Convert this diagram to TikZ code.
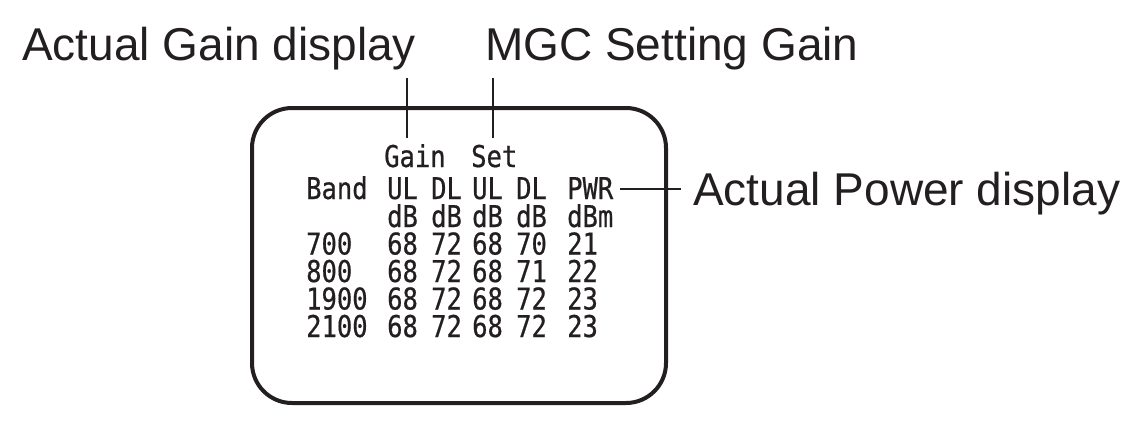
\documentclass[tikz,border=0pt]{standalone}
\usepackage{fontspec}
\setmainfont{Liberation Sans}
\newfontfamily\lcd[FakeStretch=0.85,FakeBold=0.6]{DejaVu Sans Mono}
\definecolor{ink}{HTML}{231F20}
\begin{document}
\begin{tikzpicture}[x=1pt,y=-1pt,
  lbl/.style={anchor=base west,inner sep=0pt,font=\fontsize{46}{50}\selectfont,text=ink},
  cell/.style={anchor=base west,inner sep=0pt,text height=22pt,text depth=0pt,font=\lcd\fontsize{30}{30}\selectfont,text=ink},
  leader/.style={draw=ink,line width=1.7pt},
  frame/.style={draw=ink,line width=4pt,rounded corners=40pt}]
\useasboundingbox (0,0) rectangle (1141,432);
\draw[frame] (252,108) rectangle (666,403);
% labels
\node[lbl] (lgain) at (22,60) {Actual Gain display};
\node[lbl] (lmgc) at (485,60) {MGC Setting Gain};
\node[lbl] (lpwr) at (693,205) {Actual Power display};
% header
\node[cell] (hgain) at (384,167) {Gain};
\node[cell] (hset) at (471,167) {Set};
\node[cell] (band) at (306,199) {Band};
\node[cell] (ul1) at (387,199) {UL};
\node[cell] (dl1) at (431,199) {DL};
\node[cell] (ul2) at (472,199) {UL};
\node[cell] (dl2) at (516,199) {DL};
\node[cell] (pwr) at (567,199) {PWR};
\node[cell] (u1) at (387,227) {dB};
\node[cell] (u2) at (431,227) {dB};
\node[cell] (u3) at (472,227) {dB};
\node[cell] (u4) at (516,227) {dB};
\node[cell] (u5) at (567,227) {dBm};
% rows
\foreach \y/\b/\a/\c/\d/\e/\p in {254.5/700/68/72/68/70/21, 282/800/68/72/68/71/22, 309.5/1900/68/72/68/72/23, 337/2100/68/72/68/72/23}{
  \node[cell] at (306,\y) {\b};
  \node[cell] at (387,\y) {\a};
  \node[cell] at (431,\y) {\c};
  \node[cell] at (472,\y) {\d};
  \node[cell] at (516,\y) {\e};
  \node[cell] at (567,\y) {\p};
}
% leaders
\coordinate (g1) at (407,78);
\coordinate (g2) at (407,138);
\coordinate (s1) at (493,78);
\coordinate (s2) at (493,138);
\coordinate (p1) at (620,189);
\coordinate (p2) at (681,189);
\draw[leader] (g1) -- (g2);
\draw[leader] (s1) -- (s2);
\draw[leader] (p1) -- (p2);
\end{tikzpicture}
\end{document}
